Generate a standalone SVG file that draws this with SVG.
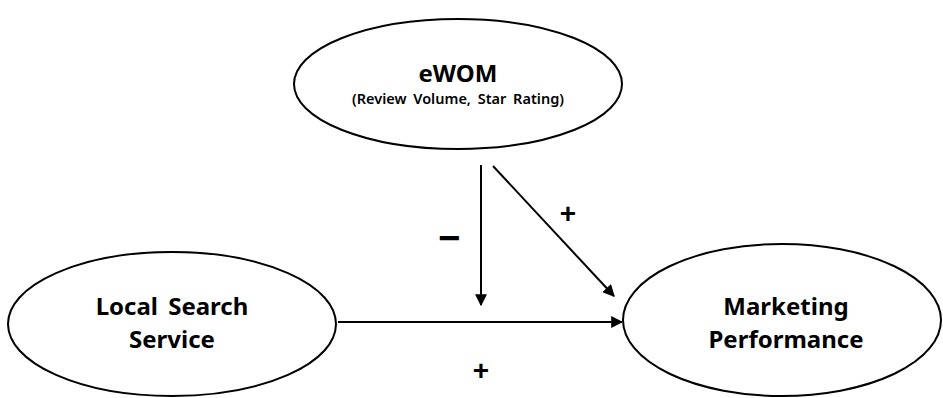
<svg xmlns="http://www.w3.org/2000/svg" width="943" height="398" viewBox="0 0 943 398">
<style>
.node{fill:#fff;stroke:#000;stroke-width:2}
.t{font-family:"Noto Sans","Liberation Sans",sans-serif;font-weight:bold;fill:#000;text-anchor:middle;word-spacing:4px}
.big{font-size:24px}
.small{font-size:14.5px;font-weight:600;word-spacing:3px}
.lbl{font-family:"Liberation Sans",sans-serif;font-size:28px;font-weight:bold;fill:#000;text-anchor:middle}
.minus{font-size:38px}
.edge{stroke:#000;stroke-width:2;fill:none;marker-end:url(#ah)}
</style>
<defs>
<marker id="ah" viewBox="0 0 10 10" refX="9" refY="5" markerWidth="6" markerHeight="6" orient="auto" markerUnits="strokeWidth">
<path d="M0,0 L10,5 L0,10 z" fill="#000"/>
</marker>
</defs>
<rect width="943" height="398" fill="#fff"/>
<g id="connectors">
<path class="edge" d="M338,322 L622,322"/>
<path class="edge" d="M481,165 L481,305"/>
<path class="edge" d="M493,166 L614,296"/>
<text class="lbl" x="481" y="380">+</text>
<text class="lbl minus" x="449" y="251">−</text>
<text class="lbl" x="568" y="223">+</text>
</g>
<g id="ewom">
<ellipse class="node" cx="458" cy="84" rx="164" ry="65"/>
<text class="t big" x="458" y="82">eWOM</text>
<text class="t small" x="458" y="104">(Review Volume, Star Rating)</text>
</g>
<g id="local">
<ellipse class="node" cx="172" cy="324" rx="164" ry="72"/>
<text class="t big" x="172" y="315">Local Search</text>
<text class="t big" x="172" y="348">Service</text>
</g>
<g id="marketing">
<ellipse class="node" cx="782" cy="320" rx="159" ry="76"/>
<text class="t big" x="786" y="315">Marketing</text>
<text class="t big" x="786" y="348">Performance</text>
</g>
</svg>
